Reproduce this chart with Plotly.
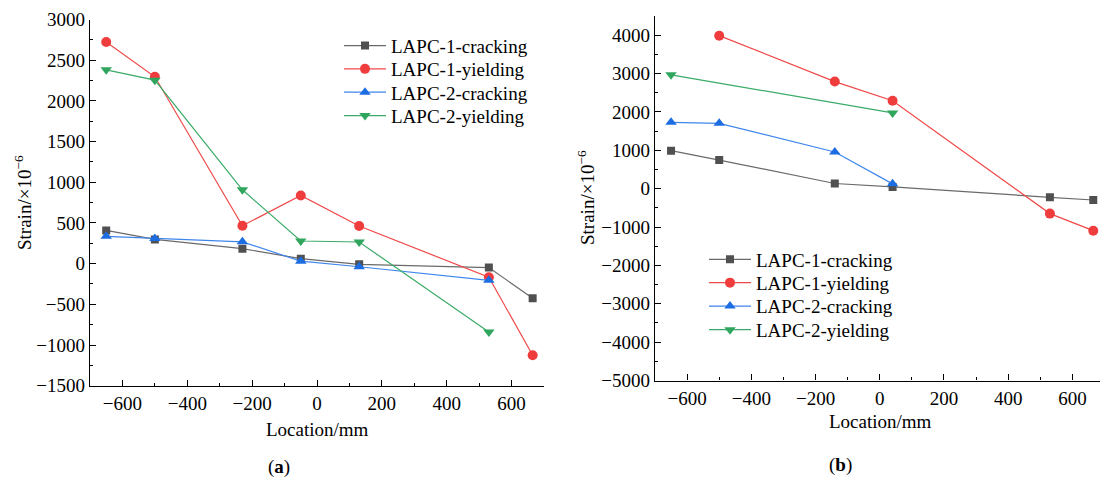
import plotly.graph_objects as go

# Panel (a)
xa = [-650, -500, -230, -50, 130, 530, 665]
a_l1_crack = [408, 298, 184, 61, -8, -49, -425]
a_l1_yield = [2724, 2296, 466, 837, 462, -167, -1126]
xa2 = [-650, -500, -230, -50, 130, 530]
a_l2_crack = [335, 310, 268, 30, -38, -205]
a_l2_yield = [2381, 2255, 907, 278, 266, -840]

# Panel (b)
xb = [-650, -500, -140, 40, 530, 665]
b_l1_crack = [990, 745, 135, 45, -225, -295]
xb1y = [-500, -140, 40, 530, 665]
b_l1_yield = [3987, 2791, 2293, -650, -1095]
xb2c = [-650, -500, -140, 40]
b_l2_crack = [1728, 1702, 955, 125]
xb2y = [-650, 40]
b_l2_yield = [2966, 1975]

names = ["LAPC-1-cracking", "LAPC-1-yielding", "LAPC-2-cracking", "LAPC-2-yielding"]
marker_colors = ["#505050", "#ef3d3d", "#1c6ce2", "#2fa55e"]
line_colors = ["#6a6a6a", "#f04848", "#3f86ec", "#3aab68"]
symbols = ["square", "circle", "triangle-up", "triangle-down"]
sizes = [8, 10, 10, 10]

FONT = "'Liberation Serif', 'Times New Roman', serif"
FS = 19
fig = go.Figure()

a_sets = [(xa, a_l1_crack), (xa, a_l1_yield), (xa2, a_l2_crack), (xa2, a_l2_yield)]
b_sets = [(xb, b_l1_crack), (xb1y, b_l1_yield), (xb2c, b_l2_crack), (xb2y, b_l2_yield)]

for i, (x, y) in enumerate(a_sets):
    fig.add_trace(go.Scatter(x=x, y=y, mode="lines+markers", name=names[i],
                             line=dict(color=line_colors[i], width=1.2),
                             marker=dict(symbol=symbols[i], size=sizes[i], color=marker_colors[i]),
                             xaxis="x", yaxis="y", legend="legend" if i == 0 else f"legend{i+1}"))
for i, (x, y) in enumerate(b_sets):
    fig.add_trace(go.Scatter(x=x, y=y, mode="lines+markers", name=names[i],
                             line=dict(color=line_colors[i], width=1.2),
                             marker=dict(symbol=symbols[i], size=sizes[i], color=marker_colors[i]),
                             xaxis="x2", yaxis="y2", legend=f"legend{i+5}"))

axis_common = dict(showline=True, linecolor="black", linewidth=1.4, ticks="inside",
                   ticklen=6, tickwidth=1.2, tickcolor="black", showgrid=False, zeroline=False,
                   tickfont=dict(family=FONT, size=FS, color="black"),
                   mirror=False, automargin=False)
minor_common = dict(ticks="inside", ticklen=3, tickwidth=1.1, tickcolor="black")

layout = dict(
    template="none",
    width=1100, height=478,
    margin=dict(l=0, r=0, t=0, b=0, autoexpand=False),
    paper_bgcolor="white", plot_bgcolor="white",
    font=dict(family=FONT, color="black"),
    xaxis=dict(domain=[90/1100, 544/1100], range=[-700, 700], dtick=200, anchor="y",
               minor=dict(dtick=100, **minor_common), **axis_common),
    yaxis=dict(domain=[1-385.7/478, 1-19.5/478], range=[-1500, 3000], dtick=500, anchor="x",
               minor=dict(dtick=250, **minor_common), **axis_common),
    xaxis2=dict(domain=[655/1100, 1.0], range=[-700, 686], dtick=200, anchor="y2",
                minor=dict(dtick=100, **minor_common), **axis_common),
    yaxis2=dict(domain=[1-380.5/478, 1-16/478], range=[-5000, 4500], dtick=1000, anchor="x2",
                minor=dict(dtick=500, **minor_common), **axis_common),
    showlegend=True,
)

OFF = 19.0
left_centers = [45.7, 69.0, 92.3, 115.7]
right_centers = [259.5, 282.8, 306.2, 329.8]
for i, c in enumerate(left_centers):
    key = "legend" if i == 0 else f"legend{i+1}"
    layout[key] = dict(x=339/1100, y=1-(c-OFF)/478, xanchor="left", yanchor="top",
                       bgcolor="rgba(0,0,0,0)", borderwidth=0, itemwidth=42,
                       font=dict(family=FONT, size=FS, color="black"))
for i, c in enumerate(right_centers):
    layout[f"legend{i+5}"] = dict(x=704/1100, y=1-(c-OFF)/478, xanchor="left", yanchor="top",
                                  bgcolor="rgba(0,0,0,0)", borderwidth=0, itemwidth=42,
                                  font=dict(family=FONT, size=FS, color="black"))
fig.update_layout(**layout)

ann = [
    dict(text="Location/mm", x=317/1100, y=1-429/478),
    dict(text="Location/mm", x=880/1100, y=1-421.7/478),
    dict(text="(<b>a</b>)", x=279/1100, y=1-466.5/478),
    dict(text="(<b>b</b>)", x=840.6/1100, y=1-465/478),
]
for a in ann:
    fig.add_annotation(xref="paper", yref="paper", xanchor="center", yanchor="middle",
                       showarrow=False, font=dict(family=FONT, size=FS, color="black"), **a)
for xp, yp in [(23, 203), (586, 198)]:
    fig.add_annotation(text="Strain/×10<sup>−6</sup>", xref="paper", yref="paper",
                       x=xp/1100, y=1-yp/478, xanchor="center", yanchor="middle",
                       textangle=-90, showarrow=False,
                       font=dict(family=FONT, size=FS, color="black"))

fig.write_html("out.html")
